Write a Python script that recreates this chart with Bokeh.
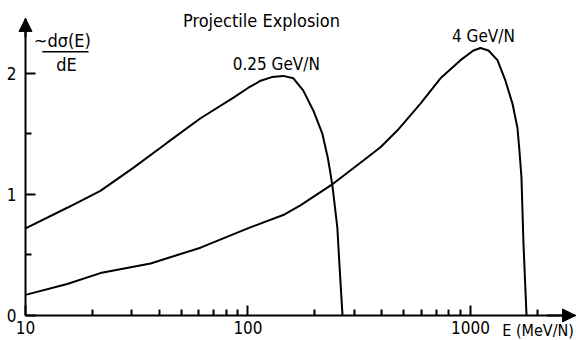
from bokeh.plotting import figure
from bokeh.models import Range1d, FixedTicker, Label, Arrow, NormalHead, CustomJSTickFormatter
from bokeh.embed import file_html
from bokeh.resources import INLINE

# ---- data ----
e_025 = [10, 15.4, 21.7, 30.5, 43.5, 61.2, 86.1, 100, 114, 128, 144, 160, 177, 197, 216, 228, 235, 240, 252, 258, 266]
v_025 = [0.72, 0.89, 1.03, 1.22, 1.43, 1.63, 1.80, 1.88, 1.94, 1.97, 1.98, 1.96, 1.86, 1.69, 1.50, 1.31, 1.17, 1.06, 0.73, 0.40, 0.0]

e_4 = [10, 15.4, 21.7, 36.5, 61.2, 103, 144, 172, 242, 330, 394, 470, 596, 733, 902, 1031, 1109, 1205, 1322, 1436, 1545, 1626, 1660, 1695, 1730, 1786]
v_4 = [0.17, 0.26, 0.35, 0.43, 0.56, 0.73, 0.83, 0.91, 1.09, 1.28, 1.39, 1.53, 1.75, 1.96, 2.11, 2.19, 2.21, 2.19, 2.11, 1.94, 1.75, 1.55, 1.36, 1.14, 0.60, 0.0]

x_ticks = [10, 100, 1000]
x_minor = [20, 30, 40, 50, 60, 70, 80, 90, 200, 300, 400, 500, 600, 700, 800, 900, 2000]
y_ticks = [0, 1, 2]
y_minor = [0.5, 1.5]

title_text = "Projectile Explosion"
label_025 = "0.25 GeV/N"
label_4 = "4 GeV/N"
x_label = "E (MeV/N)"
y_label_top = "~dσ(E)"
y_label_bottom = "dE"

FONT = "'DejaVu Sans Condensed', 'Liberation Sans Narrow', 'Roboto', sans-serif"

p = figure(width=577, height=340, x_axis_type="log",
           x_range=Range1d(7.72, 3027), y_range=Range1d(-0.207, 2.603),
           output_backend="svg", toolbar_location=None,
           min_border_left=0, min_border_right=0, min_border_top=0, min_border_bottom=0)

p.outline_line_color = None
p.grid.visible = False
p.background_fill_color = "white"
p.border_fill_color = "white"

for ax in (p.xaxis[0], p.yaxis[0]):
    ax.axis_line_width = 2
    ax.axis_line_color = "black"
    ax.major_tick_line_width = 2
    ax.minor_tick_line_width = 2
    ax.major_tick_out = 0
    ax.minor_tick_out = 0
    ax.major_tick_in = 10
    ax.minor_tick_in = 6
    ax.major_label_text_font = FONT
    ax.major_label_text_font_size = "17px"
    ax.major_label_text_color = "black"

p.xaxis.fixed_location = 0
p.yaxis.fixed_location = 10
p.xaxis.bounds = (10, 2966)
p.yaxis.bounds = (0, 2.455)
p.xaxis.major_label_standoff = 6
p.yaxis.major_label_standoff = 9

p.xaxis.ticker = FixedTicker(ticks=x_ticks, minor_ticks=x_minor)
p.yaxis.ticker = FixedTicker(ticks=y_ticks, minor_ticks=y_minor)
p.xaxis.formatter = CustomJSTickFormatter(code="return tick.toFixed(0)")
p.yaxis.formatter = CustomJSTickFormatter(code="return tick.toFixed(0)")

p.line(e_025, v_025, line_width=2, line_color="black")
p.line(e_4, v_4, line_width=2, line_color="black")

# axis arrows
p.add_layout(Arrow(end=NormalHead(size=13, fill_color="black", line_color="black"),
                   x_start=10, y_start=2.3, x_end=10, y_end=2.455, line_width=2))
p.add_layout(Arrow(end=NormalHead(size=13, fill_color="black", line_color="black"),
                   x_start=2200, y_start=0, x_end=2966, y_end=0, line_width=2))

def lab(txt, x, y, align="center", size="18px", baseline="middle"):
    p.add_layout(Label(x=x, y=y, text=txt, text_font=FONT, text_font_size=size,
                       text_align=align, text_baseline=baseline, text_color="black"))

lab(title_text, 115, 2.44, size="18px")
lab(label_025, 134, 2.08, size="17px")
lab(label_4, 1143, 2.31, size="17px")
lab(y_label_top, 10.9, 2.27, align="left", size="18px")
lab(y_label_bottom, 15.3, 2.07, size="18px")
lab(x_label, 1390, -0.124, align="left", size="16px")

# fraction bar of the y label
p.line([11.9, 19.2], [2.18, 2.18], line_width=1.5, line_color="black")

open("out.html", "w").write(file_html(p, INLINE))
